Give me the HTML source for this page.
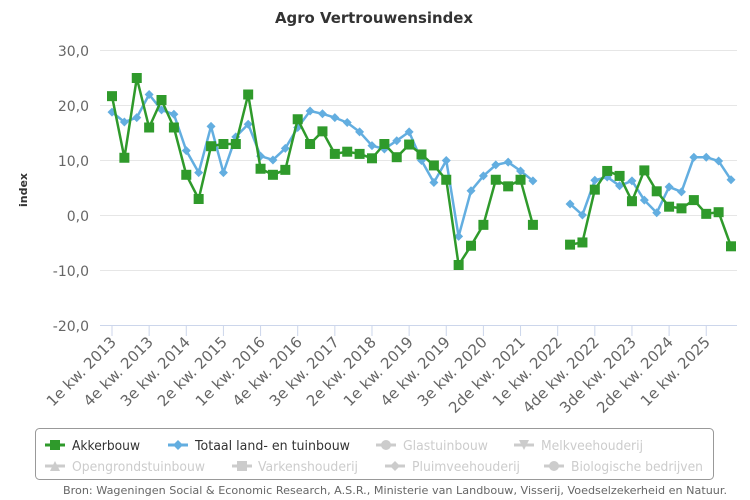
<!DOCTYPE html>
<html><head><meta charset="utf-8"><style>
body{margin:0;background:#fff;}
svg{display:block;font-family:"DejaVu Sans","Liberation Sans",sans-serif;}
</style></head><body>
<svg id="c" width="750" height="500" viewBox="0 0 750 500">
<text x="275" y="23" font-size="15" font-weight="bold" fill="#333" textLength="198" lengthAdjust="spacingAndGlyphs">Agro Vertrouwensindex</text>
<text transform="translate(27,190) rotate(-90)" text-anchor="middle" font-size="11" font-weight="bold" fill="#333">index</text>
<g stroke="#e6e6e6" stroke-width="1">
<line x1="100" x2="737" y1="50.5" y2="50.5"/><line x1="100" x2="737" y1="105.5" y2="105.5"/>
<line x1="100" x2="737" y1="160.5" y2="160.5"/><line x1="100" x2="737" y1="215.5" y2="215.5"/>
<line x1="100" x2="737" y1="270.5" y2="270.5"/>
</g>
<line x1="100" x2="737" y1="325.5" y2="325.5" stroke="#ccd6eb"/>
<g font-size="14" fill="#666" text-anchor="end">
<text x="89" y="56">30,0</text><text x="89" y="111">20,0</text><text x="89" y="166">10,0</text>
<text x="89" y="221">0,0</text><text x="89" y="276">-10,0</text><text x="89" y="331">-20,0</text>
</g>
<g id="ticks" stroke="#ccd6eb"></g>
<g font-size="15" fill="#666" text-anchor="end">
<text transform="translate(117,343) rotate(-45)">1e kw. 2013</text>
<text transform="translate(154,343) rotate(-45)">4e kw. 2013</text>
<text transform="translate(191,343) rotate(-45)">3e kw. 2014</text>
<text transform="translate(228,343) rotate(-45)">2e kw. 2015</text>
<text transform="translate(266,343) rotate(-45)">1e kw. 2016</text>
<text transform="translate(303,343) rotate(-45)">4e kw. 2016</text>
<text transform="translate(340,343) rotate(-45)">3e kw. 2017</text>
<text transform="translate(377,343) rotate(-45)">2e kw. 2018</text>
<text transform="translate(414,343) rotate(-45)">1e kw. 2019</text>
<text transform="translate(451,343) rotate(-45)">4e kw. 2019</text>
<text transform="translate(488,343) rotate(-45)">3e kw. 2020</text>
<text transform="translate(526,343) rotate(-45)">2de kw. 2021</text>
<text transform="translate(563,343) rotate(-45)">1e kw. 2022</text>
<text transform="translate(600,343) rotate(-45)">4de kw. 2022</text>
<text transform="translate(637,343) rotate(-45)">3de kw. 2023</text>
<text transform="translate(674,343) rotate(-45)">2de kw. 2024</text>
<text transform="translate(711,343) rotate(-45)">1e kw. 2025</text>
</g>
<g id="series"></g>
<rect x="35.5" y="428.5" width="678" height="51" rx="4" fill="#fff" stroke="#999"/>
<g font-size="13">
<line x1="45" x2="65" y1="445" y2="445" stroke="#2f9a2b" stroke-width="3"/><rect x="50" y="440" width="10" height="10" fill="#2f9a2b"/>
<text x="72" y="450" fill="#333" textLength="68" lengthAdjust="spacingAndGlyphs">Akkerbouw</text>
<line x1="168" x2="188" y1="445" y2="445" stroke="#63aee0" stroke-width="3"/><path d="M178 440 L183 445 L178 450 L173 445Z" fill="#63aee0"/>
<text x="195" y="450" fill="#333" textLength="155" lengthAdjust="spacingAndGlyphs">Totaal land- en tuinbouw</text>
<line x1="376" x2="396" y1="445" y2="445" stroke="#ccc" stroke-width="3"/><circle cx="386" cy="445" r="5" fill="#ccc"/>
<text x="403" y="450" fill="#ccc" textLength="85" lengthAdjust="spacingAndGlyphs">Glastuinbouw</text>
<line x1="514" x2="534" y1="445" y2="445" stroke="#ccc" stroke-width="3"/><path d="M519 440 L529 440 L524 450Z" fill="#ccc"/>
<text x="541" y="450" fill="#ccc" textLength="102" lengthAdjust="spacingAndGlyphs">Melkveehouderij</text>
<line x1="45" x2="65" y1="466" y2="466" stroke="#ccc" stroke-width="3"/><path d="M55 461 L60 471 L50 471Z" fill="#ccc"/>
<text x="72" y="471" fill="#ccc" textLength="133" lengthAdjust="spacingAndGlyphs">Opengrondstuinbouw</text>
<line x1="232" x2="252" y1="466" y2="466" stroke="#ccc" stroke-width="3"/><rect x="237" y="461" width="10" height="10" fill="#ccc"/>
<text x="258" y="471" fill="#ccc" textLength="100" lengthAdjust="spacingAndGlyphs">Varkenshouderij</text>
<line x1="385" x2="405" y1="466" y2="466" stroke="#ccc" stroke-width="3"/><path d="M395 461 L400 466 L395 471 L390 466Z" fill="#ccc"/>
<text x="412" y="471" fill="#ccc" textLength="108" lengthAdjust="spacingAndGlyphs">Pluimveehouderij</text>
<line x1="544" x2="564" y1="466" y2="466" stroke="#ccc" stroke-width="3"/><circle cx="554" cy="466" r="5" fill="#ccc"/>
<text x="571" y="471" fill="#ccc" textLength="132" lengthAdjust="spacingAndGlyphs">Biologische bedrijven</text>
</g>
<text x="63" y="494" font-size="11" fill="#666" textLength="664" lengthAdjust="spacingAndGlyphs">Bron: Wageningen Social &amp; Economic Research, A.S.R., Ministerie van Landbouw, Visserij, Voedselzekerheid en Natuur.</text>
</svg>
<script>
var NS="http://www.w3.org/2000/svg";
function el(t,a,p){var e=document.createElementNS(NS,t);for(var k in a)e.setAttribute(k,a[k]);p.appendChild(e);return e;}
var tg=document.getElementById("ticks");
for(var k=0;k<17;k++){var x=112+k*3*12.38;el("line",{x1:x,x2:x,y1:325,y2:336},tg);}
var A=[21.7,10.5,25,16,21,16,7.4,3,12.6,13,13,22,8.5,7.4,8.3,17.5,13,15.3,11.2,11.6,11.2,10.4,13,10.6,12.9,11.1,9.1,6.5,-9,-5.5,-1.7,6.5,5.3,6.5,-1.7,null,null,-5.3,-4.9,4.7,8.1,7.2,2.6,8.2,4.4,1.6,1.3,2.8,0.3,0.6,-5.6];
var B=[18.8,17,17.8,22,19.2,18.4,11.8,7.8,16.2,7.8,14.3,16.6,10.8,10.1,12.2,16,19,18.5,17.8,16.9,15.2,12.7,12.1,13.6,15.2,10,6,10,-3.8,4.5,7.2,9.2,9.7,8.1,6.3,null,null,2.1,0.1,6.4,7,5.4,6.3,2.8,0.5,5.2,4.3,10.6,10.6,9.9,6.5];
var sg=document.getElementById("series");
function X(i){return 112+i*12.38;}function Y(v){return 215.5-v*5.5;}
function draw(d,col,mk){
 var segs=[],cur=[];
 d.forEach(function(v,i){if(v===null){if(cur.length)segs.push(cur);cur=[];}else cur.push(X(i).toFixed(1)+","+Y(v).toFixed(1));});
 if(cur.length)segs.push(cur);
 segs.forEach(function(s){el("polyline",{points:s.join(" "),fill:"none",stroke:col,"stroke-width":2.5,"stroke-linejoin":"round"},sg);});
 d.forEach(function(v,i){if(v===null)return;var x=X(i),y=Y(v);
  if(mk=="sq")el("rect",{x:x-5,y:y-5,width:10,height:10,fill:col},sg);
  else el("path",{d:"M"+x+" "+(y-4.5)+"L"+(x+4.5)+" "+y+"L"+x+" "+(y+4.5)+"L"+(x-4.5)+" "+y+"Z",fill:col},sg);});
}
draw(B,"#63aee0","di");
draw(A,"#2f9a2b","sq");
</script>
</body></html>
